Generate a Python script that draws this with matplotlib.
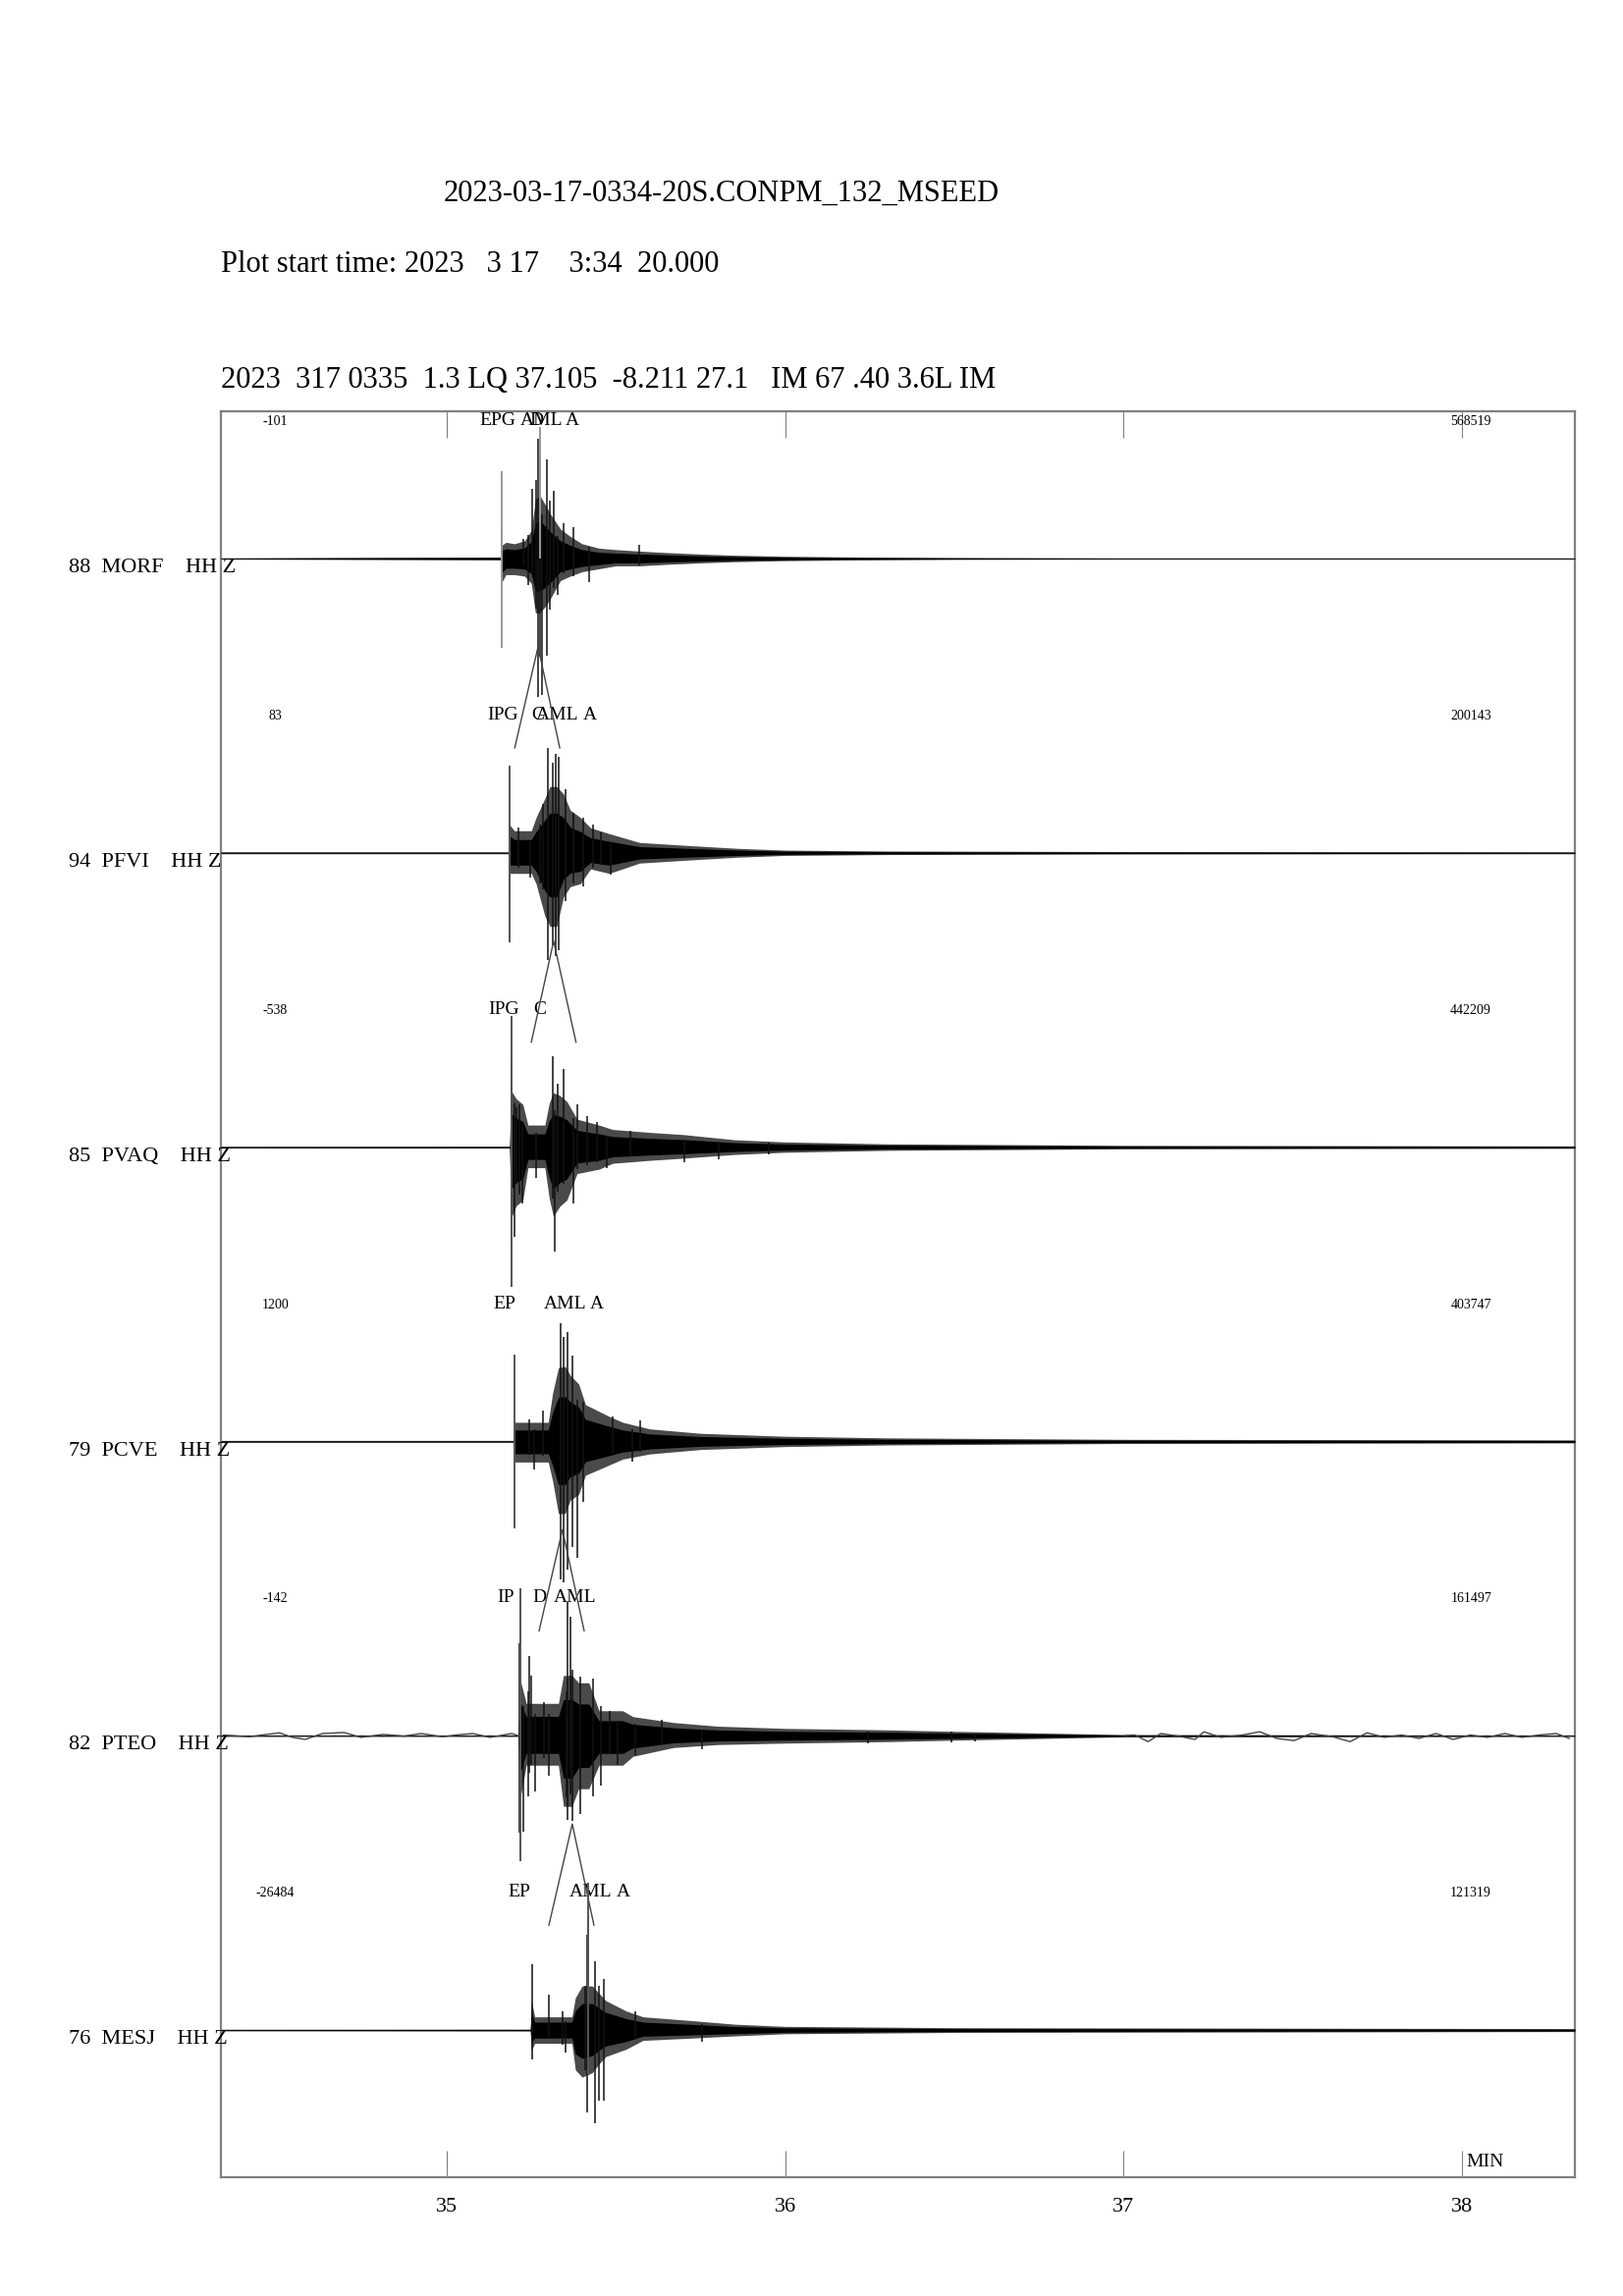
import matplotlib.pyplot as plt
import numpy as np
from matplotlib import transforms

# Seismogram page: 6 vertical-component traces, time axis in minutes after 03:00
plot_start = 34.333
plot_end = 38.333

station_labels = ['88  MORF    HH Z', '94  PFVI    HH Z', '85  PVAQ    HH Z',
                  '79  PCVE    HH Z', '82  PTEO    HH Z', '76  MESJ    HH Z']
amp_min_labels = ['-101', '83', '-538', '1200', '-142', '-26484']
amp_max_labels = ['568519', '200143', '442209', '403747', '161497', '121319']

# phase readings written above each trace: (time, text)
phase_labels = [
    [(35.097, 'EPG'), (35.218, 'AML'), (35.244, 'D'), (35.351, 'A')],
    [(35.120, 'IPG'), (35.250, 'C'), (35.264, 'AML'), (35.403, 'A')],
    [(35.123, 'IPG'), (35.255, 'C')],
    [(35.137, 'EP'), (35.287, 'AML'), (35.423, 'A')],
    [(35.149, 'IP'), (35.255, 'D'), (35.316, 'AML')],
    [(35.180, 'EP'), (35.362, 'AML'), (35.501, 'A')],
]

# amplitude envelopes: (time, up, down), 1.0 = half a trace band
morf_env = [(34.333, .004, .004), (35.160, .01, .01), (35.163, .09, .16), (35.175, .11, .11),
            (35.200, .10, .11), (35.230, .12, .12), (35.250, .19, .17), (35.262, .40, .37),
            (35.275, .43, .37), (35.290, .37, .33), (35.307, .30, .27), (35.336, .20, .15),
            (35.365, .15, .12), (35.40, .10, .09), (35.45, .07, .07), (35.50, .06, .05),
            (35.57, .05, .05), (35.65, .04, .04), (35.75, .03, .03), (35.85, .022, .022),
            (36.00, .015, .015), (36.20, .01, .01), (36.50, .006, .006), (37.00, .004, .004),
            (38.333, .004, .004)]
pfvi_env = [(34.333, .006, .006), (35.183, .006, .006), (35.186, .19, .14), (35.200, .15, .14),
            (35.250, .15, .14), (35.264, .24, .21), (35.290, .37, .43), (35.305, .45, .50),
            (35.325, .45, .50), (35.345, .40, .30), (35.365, .29, .23), (35.395, .24, .21),
            (35.425, .17, .11), (35.48, .13, .14), (35.57, .07, .07), (35.71, .05, .05),
            (35.86, .03, .03), (36.0, .018, .018), (36.3, .012, .012), (37.0, .008, .008),
            (38.333, .006, .006)]
pvaq_env = [(34.333, .005, .005), (35.186, .006, .006), (35.189, .39, .49), (35.205, .33, .40),
            (35.225, .29, .36), (35.240, .15, .14), (35.290, .15, .14), (35.303, .30, .35),
            (35.315, .37, .47), (35.335, .35, .40), (35.355, .31, .36), (35.385, .19, .18),
            (35.45, .15, .15), (35.49, .12, .11), (35.60, .10, .09), (35.70, .085, .075),
            (35.85, .05, .05), (36.0, .035, .035), (36.3, .022, .022), (37.0, .012, .012),
            (38.333, .008, .008)]
pcve_env = [(34.333, .006, .006), (35.197, .006, .006), (35.200, .13, .14), (35.300, .13, .14),
            (35.313, .33, .27), (35.330, .50, .49), (35.350, .51, .49), (35.365, .45, .40),
            (35.39, .39, .36), (35.41, .25, .23), (35.48, .17, .16), (35.52, .13, .12),
            (35.60, .085, .085), (35.75, .055, .055), (36.0, .035, .035), (36.3, .024, .024),
            (37.0, .014, .014), (38.333, .01, .01)]
pteo_env = [(34.333, .004, .004), (35.212, .004, .004), (35.215, .40, .45), (35.235, .22, .20),
            (35.33, .22, .20), (35.345, .41, .48), (35.37, .41, .48), (35.39, .36, .36),
            (35.42, .36, .36), (35.45, .17, .20), (35.52, .17, .20), (35.55, .13, .14),
            (35.67, .09, .08), (35.80, .065, .06), (36.0, .05, .05), (36.3, .04, .04),
            (36.5, .03, .03), (37.0, .008, .008), (38.333, .004, .004)]
mesj_env = [(34.333, .005, .005), (35.247, .006, .006), (35.250, .20, .14), (35.260, .09, .09),
            (35.37, .09, .09), (35.38, .22, .27), (35.40, .30, .32), (35.43, .30, .29),
            (35.45, .25, .23), (35.47, .20, .18), (35.53, .13, .13), (35.58, .09, .07),
            (35.72, .065, .055), (35.85, .04, .04), (36.0, .025, .025), (36.5, .016, .016),
            (38.333, .01, .01)]

# the tall single swings standing out of each envelope: (time, up, down)
morf_spikes = [(35.163, .19, .16), (35.227, .13, .05), (35.241, .16, .18), (35.253, .47, .10),
               (35.264, .53, .34), (35.270, .81, .94), (35.276, .69, .67), (35.281, .30, .93),
               (35.296, .67, .66), (35.304, .39, .35), (35.316, .46, .20), (35.328, .15, .25),
               (35.345, .24, .10), (35.374, .21, .12), (35.420, .08, .16), (35.570, .09, .05)]
pfvi_spikes = [(35.186, .19, .33), (35.212, .17, .10), (35.247, .08, .17), (35.276, .19, .21),
               (35.284, .33, .25), (35.299, .71, .73), (35.313, .61, .63), (35.322, .67, .70),
               (35.330, .65, .66), (35.351, .43, .33), (35.374, .27, .21), (35.403, .24, .23),
               (35.431, .19, .10), (35.457, .14, .08), (35.486, .06, .15)]
pvaq_spikes = [(35.192, .59, .65), (35.201, .30, .61), (35.206, .27, .25), (35.215, .29, .32),
               (35.224, .15, .38), (35.264, .10, .21), (35.313, .62, .35), (35.319, .25, .71),
               (35.328, .43, .30), (35.345, .53, .25), (35.374, .20, .38), (35.385, .29, .15),
               (35.414, .21, .12), (35.443, .17, .10), (35.472, .08, .14), (35.544, .11, .06),
               (35.703, .05, .10), (35.804, .04, .08), (35.951, .03, .05)]
pcve_spikes = [(35.244, .15, .09), (35.258, .08, .19), (35.284, .21, .10), (35.336, .80, .94),
               (35.345, .71, .96), (35.356, .74, .87), (35.371, .58, .72), (35.385, .28, .79),
               (35.403, .27, .41), (35.489, .17, .10), (35.547, .08, .14), (35.573, .14, .07)]
pteo_spikes = [(35.215, .63, .66), (35.226, .20, .65), (35.240, .30, .41), (35.243, .54, .25),
               (35.250, .41, .20), (35.261, .15, .38), (35.288, .23, .15), (35.302, .15, .27),
               (35.354, .30, .42), (35.357, .91, .57), (35.365, .81, .40), (35.370, .45, .58),
               (35.394, .40, .53), (35.431, .39, .41), (35.457, .20, .34), (35.481, .17, .12),
               (35.505, .10, .20), (35.558, .08, .13), (35.636, .11, .06), (35.755, .04, .09),
               (36.245, .03, .055), (36.49, .03, .045), (36.56, .01, .04)]
mesj_spikes = [(35.253, .45, .20), (35.302, .24, .06), (35.342, .13, .10), (35.351, .06, .15),
               (35.408, .30, .27), (35.414, .65, .56), (35.417, .77, .20), (35.437, .47, .63),
               (35.449, .30, .48), (35.463, .35, .48), (35.558, .13, .06), (35.755, .04, .08)]

# PTEO has a visible long-period noise wiggle before and after the event: (time, value)
pteo_noise_pre = [(34.341, .005), (34.417, -.007), (34.455, .005), (34.506, .02), (34.544, -.011),
                  (34.582, -.025), (34.633, .015), (34.696, .022), (34.747, -.011), (34.811, .009),
                  (34.874, -.002), (34.925, .015), (34.988, -.007), (35.027, .005), (35.077, .015),
                  (35.128, -.011), (35.192, .015), (35.212, 0.0)]
pteo_noise_post = [(37.0, 0.0), (37.033, .005), (37.072, -.04), (37.110, .015), (37.160, -.002),
                   (37.211, -.025), (37.237, .027), (37.287, -.011), (37.351, .005), (37.402, .027),
                   (37.452, -.018), (37.503, -.033), (37.554, .015), (37.618, -.007), (37.669, -.04),
                   (37.719, .02), (37.770, -.011), (37.821, .005), (37.872, -.018), (37.923, .015),
                   (37.973, -.025), (38.024, .005), (38.075, -.011), (38.126, .015), (38.177, -.011),
                   (38.227, .005), (38.278, .015), (38.316, -.018)]

# pick lines through the onsets: (time, up, down, colour)
pick_lines = [
    [(35.163, .59, .61, '#9a9a9a'), (35.276, .89, 0.0, '#9a9a9a')],
    [(35.186, .59, .61, '#555555')],
    [(35.192, .89, .95, '#555555')],
    [(35.200, .59, .59, '#555555')],
    [(35.218, 1.0, .85, '#555555')],
    [(35.417, 1.0, .30, '#555555')],
]

# inverted-V amplitude markers hanging below a trace: (apex time, left end time, right end time)
v_markers = [(35.270, 35.201, 35.334), (35.316, 35.250, 35.382), None,
             (35.342, 35.273, 35.406), (35.371, 35.302, 35.435), None]
v_apex_depth = 0.60
v_end_depth = 1.287

envelopes = [morf_env, pfvi_env, pvaq_env, pcve_env, pteo_env, mesj_env]
spikes = [morf_spikes, pfvi_spikes, pvaq_spikes, pcve_spikes, pteo_spikes, mesj_spikes]

font = 'Liberation Serif'
frame_col = '#808080'

fig = plt.figure(figsize=(8.265, 11.695), dpi=200)
ax = fig.add_axes([225 / 1653, 1 - 2218 / 2339, 1379 / 1653, 1799 / 2339])
ax.set_xlim(plot_start, plot_end)
ax.set_ylim(0, 6)

n = len(station_labels)
left_tr = transforms.blended_transform_factory(fig.transFigure, ax.transData)
for i in range(n):
    base = n - 0.5 - i
    band_top = n - i

    # quiet trace line
    ax.hlines(base, plot_start, plot_end, color='#3c3c3c', lw=0.45, zorder=2)

    # swinging part: dark grey outer envelope, black dense core
    env = np.array(envelopes[i])
    ax.fill_between(env[:, 0], base - env[:, 2] * 0.5, base + env[:, 1] * 0.5,
                    color='#4a4a4a', lw=0, zorder=3)
    ax.fill_between(env[:, 0], base - env[:, 2] * 0.3, base + env[:, 1] * 0.3,
                    color='black', lw=0, zorder=3)

    sp = np.array(spikes[i])
    ax.vlines(sp[:, 0], base - sp[:, 2] * 0.5, base + sp[:, 1] * 0.5,
              color='#111111', lw=0.55, zorder=3)

    for t, up, dn, col in pick_lines[i]:
        ax.vlines(t, base - dn * 0.5, base + up * 0.5, color=col, lw=0.7, zorder=4)

    if v_markers[i] is not None:
        apex, t_left, t_right = v_markers[i]
        ax.plot([t_left, apex, t_right],
                [base - v_end_depth * 0.5, base - v_apex_depth * 0.5, base - v_end_depth * 0.5],
                color='#444444', lw=0.5, zorder=4)

    # labels of the trace band
    ax.text(70 / 1653, base - 0.047, station_labels[i], transform=left_tr,
            family=font, fontsize=8, va='baseline', ha='left', clip_on=False)
    ax.text(34.494, band_top - 0.047, amp_min_labels[i], family=font, fontsize=5,
            ha='center', va='baseline')
    ax.text(38.026, band_top - 0.047, amp_max_labels[i], family=font, fontsize=5,
            ha='center', va='baseline')
    for t, txt in phase_labels[i]:
        ax.text(t, band_top - 0.047, txt, family=font, fontsize=7,
                ha='left', va='baseline')

# long-period noise on PTEO
for noise in (pteo_noise_pre, pteo_noise_post):
    nz = np.array(noise)
    ax.plot(nz[:, 0], (n - 0.5 - 4) + nz[:, 1] * 0.5, color='#444444', lw=0.5, zorder=3)

# frame and ticks
for s in ax.spines.values():
    s.set_color(frame_col)
    s.set_linewidth(0.8)
ax.set_yticks([])
ax.set_xticks([35, 36, 37, 38])
ax.set_xticklabels(['35', '36', '37', '38'], family=font, fontsize=8)
ax.tick_params(axis='x', direction='in', top=True, bottom=True, length=9.7,
               width=0.4, color=frame_col, pad=7.5)
ax.text(38.013, 0.037, 'MIN', family=font, fontsize=7, ha='left', va='baseline')

# header lines
fig.text(735 / 1653, 1 - 205 / 2339, '2023-03-17-0334-20S.CONPM_132_MSEED',
         family=font, fontsize=11, ha='center', va='baseline')
fig.text(225 / 1653, 1 - 277 / 2339, 'Plot start time: 2023   3 17    3:34  20.000',
         family=font, fontsize=11, ha='left', va='baseline')
fig.text(225 / 1653, 1 - 395 / 2339,
         '2023  317 0335  1.3 LQ 37.105  -8.211 27.1   IM 67 .40 3.6L IM',
         family=font, fontsize=11, ha='left', va='baseline')

fig.savefig('out.png', dpi=200)
